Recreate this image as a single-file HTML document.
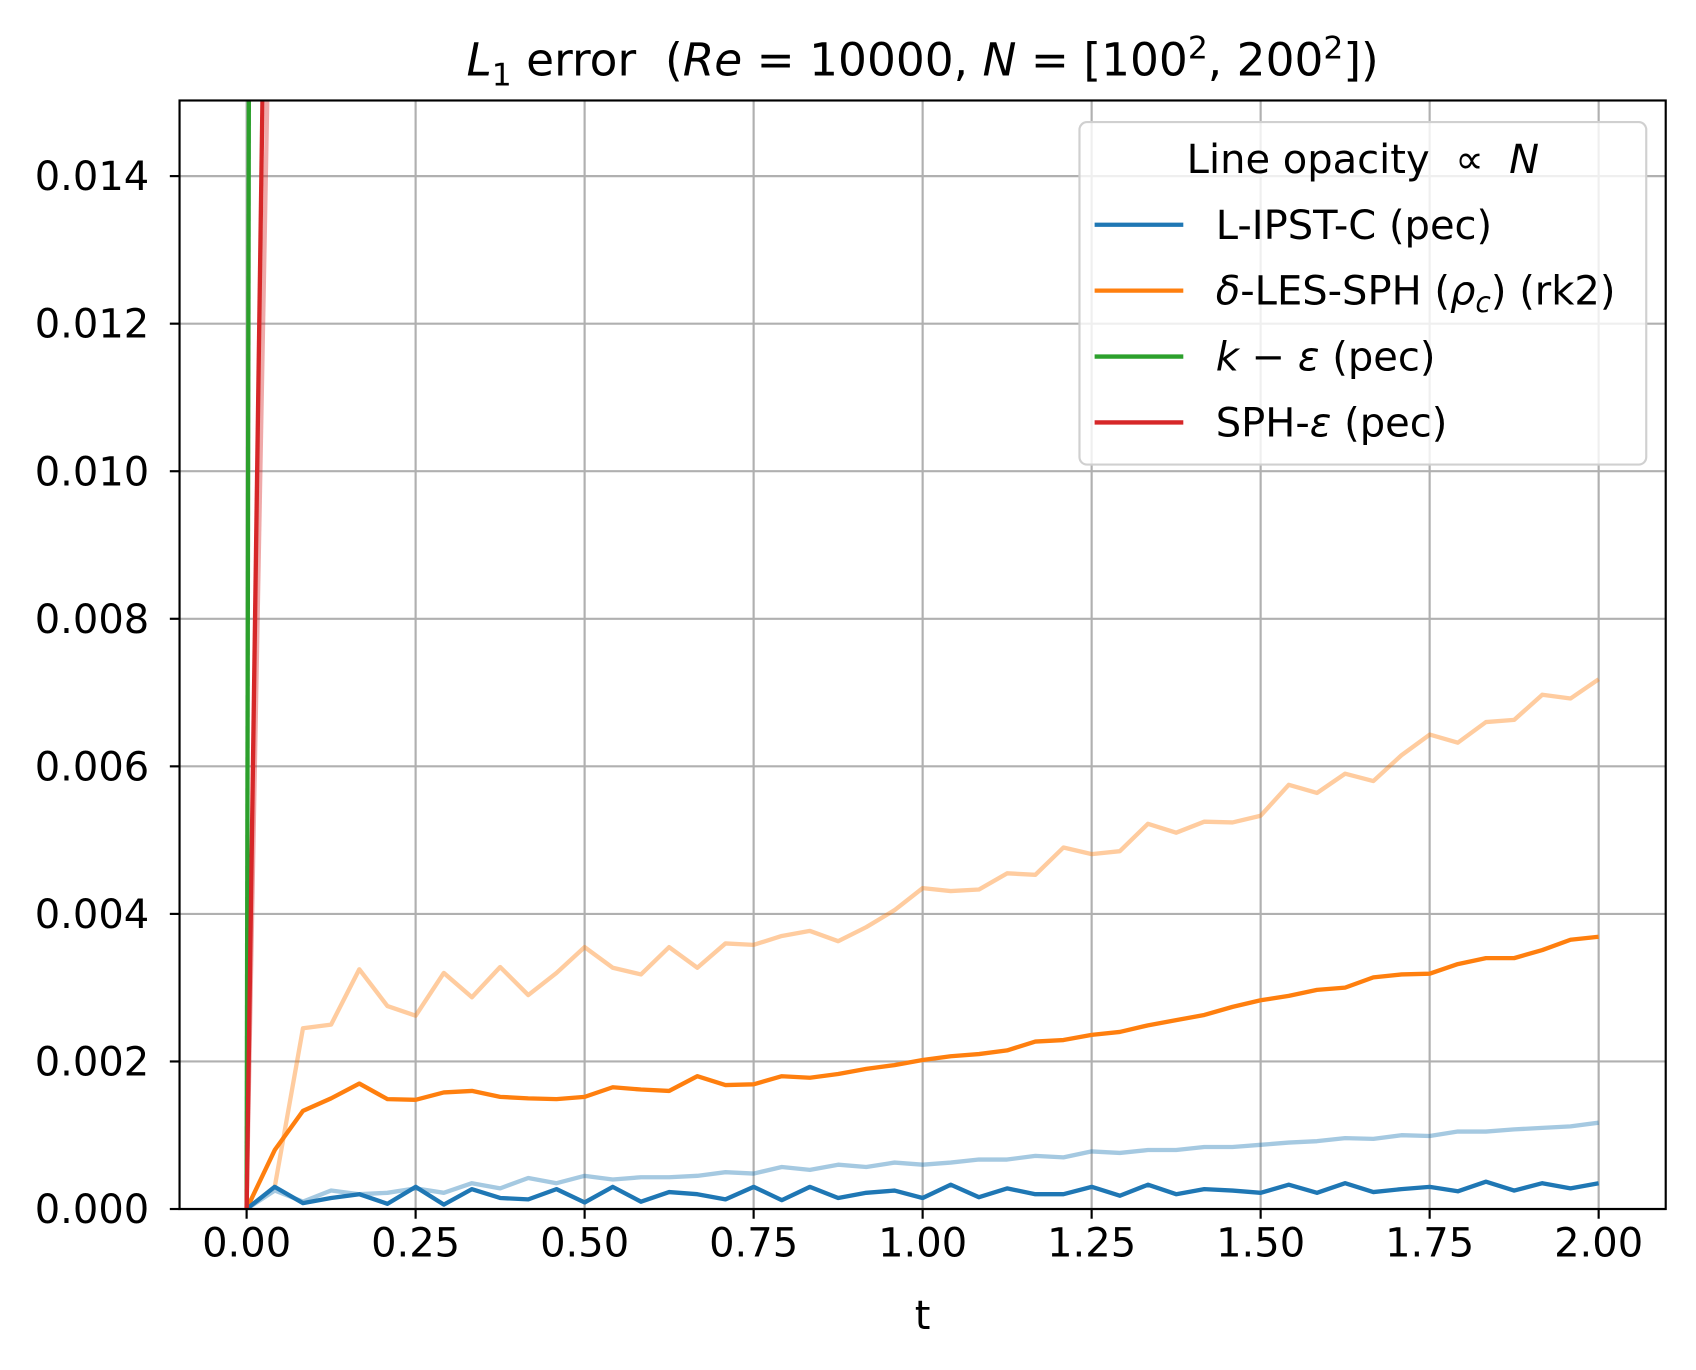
<!DOCTYPE html>
<html><head><meta charset="utf-8"><style>html,body{margin:0;padding:0;background:#fff}svg{display:block}</style></head>
<body>
<svg id="chart" width="1696" height="1370" viewBox="0 0 1568 1268" preserveAspectRatio="none" xmlns="http://www.w3.org/2000/svg" font-family="'DejaVu Sans','Liberation Sans',sans-serif">
<rect width="1568" height="1268" fill="#fff"/>
<g id="grid"></g>
<g id="series"></g>
<g id="axes"></g>
<text x="853" y="70" font-size="42" text-anchor="middle" xml:space="preserve"><tspan font-style="italic">L</tspan><tspan font-size="29" dy="9">1</tspan><tspan dy="-9"> error  (</tspan><tspan font-style="italic">Re</tspan><tspan> = 10000, </tspan><tspan font-style="italic">N</tspan><tspan> = [100</tspan><tspan font-size="29" dy="-16">2</tspan><tspan dy="16">, 200</tspan><tspan font-size="29" dy="-16">2</tspan><tspan dy="16">])</tspan></text>
<text x="853" y="1230" font-size="37" text-anchor="middle">t</text>
<g>
<rect x="998" y="113" width="524" height="317" rx="7" fill="#fff" fill-opacity="0.8" stroke="#d0d0d0" stroke-width="2"/>
<text x="1260" y="160" font-size="37" text-anchor="middle" xml:space="preserve">Line opacity  ∝  <tspan font-style="italic">N</tspan></text>
<g><line x1="1012" x2="1094" y1="208" y2="208" stroke="#1f77b4" stroke-width="4"/><text x="1124" y="221" font-size="37">L-IPST-C (pec)</text></g>
<g><line x1="1012" x2="1094" y1="269" y2="269" stroke="#ff7f0e" stroke-width="4"/><text x="1124" y="282" font-size="37"><tspan font-style="italic">δ</tspan>-LES-SPH (<tspan font-style="italic">ρ</tspan><tspan font-style="italic" font-size="26" dy="7">c</tspan><tspan dy="-7">) (rk2)</tspan></text></g>
<g><line x1="1012" x2="1094" y1="330" y2="330" stroke="#2ca02c" stroke-width="4"/><text x="1124" y="343" font-size="37"><tspan font-style="italic">k</tspan> − <tspan font-style="italic">ε</tspan> (pec)</text></g>
<g><line x1="1012" x2="1094" y1="391" y2="391" stroke="#d62728" stroke-width="4"/><text x="1124" y="404" font-size="37">SPH-<tspan font-style="italic">ε</tspan> (pec)</text></g>
</g>
</svg>
<script>
const xTicks=[0,0.25,0.5,0.75,1.0,1.25,1.5,1.75,2.0];
const yTicks=[0,0.002,0.004,0.006,0.008,0.010,0.012,0.014];
const orangeLight=[0,0.3,2.45,2.5,3.25,2.75,2.62,3.2,2.87,3.28,2.9,3.2,3.55,3.27,3.18,3.55,3.27,3.6,3.58,3.7,3.77,3.63,3.82,4.05,4.35,4.31,4.33,4.55,4.53,4.9,4.81,4.85,5.22,5.1,5.25,5.24,5.33,5.75,5.64,5.9,5.8,6.15,6.43,6.32,6.6,6.63,6.97,6.92,7.18];
const orangeDark=[0,0.8,1.33,1.5,1.7,1.49,1.48,1.58,1.6,1.52,1.5,1.49,1.52,1.65,1.62,1.6,1.8,1.68,1.69,1.8,1.78,1.83,1.9,1.95,2.02,2.07,2.1,2.15,2.27,2.29,2.36,2.4,2.49,2.56,2.63,2.74,2.83,2.89,2.97,3.0,3.14,3.18,3.19,3.32,3.4,3.4,3.51,3.65,3.69];
const blueLight=[0,0.25,0.1,0.25,0.2,0.22,0.28,0.22,0.35,0.28,0.42,0.35,0.45,0.4,0.43,0.43,0.45,0.5,0.48,0.57,0.53,0.6,0.57,0.63,0.6,0.63,0.67,0.67,0.72,0.7,0.78,0.76,0.8,0.8,0.84,0.84,0.87,0.9,0.92,0.96,0.95,1.0,0.99,1.05,1.05,1.08,1.1,1.12,1.17];
const blueDark=[0,0.3,0.08,0.15,0.2,0.07,0.3,0.06,0.27,0.15,0.13,0.27,0.09,0.3,0.1,0.23,0.2,0.13,0.3,0.12,0.3,0.15,0.22,0.25,0.15,0.33,0.16,0.28,0.2,0.2,0.3,0.18,0.33,0.2,0.27,0.25,0.22,0.33,0.22,0.35,0.23,0.27,0.3,0.24,0.37,0.25,0.35,0.28,0.35];
const greenT=[0,0.0035], greenV=[0,16];
const redT=[0,0.025], redV=[0,16];
const NS="http://www.w3.org/2000/svg";
const L=166,R=1540,T=93,B=1119;
const X=t=>228+(1478-228)*t/2;
const Y=v=>1119-(1119-163)*v/0.014;
function mk(tag,attrs,parent){const e=document.createElementNS(NS,tag);for(const k in attrs)e.setAttribute(k,attrs[k]);parent.appendChild(e);return e;}
const grid=document.getElementById('grid'),axes=document.getElementById('axes'),series=document.getElementById('series');
xTicks.forEach(t=>{
 const g=mk('line',{x1:X(t),x2:X(t),y1:T,y2:B,stroke:'#b0b0b0','stroke-width':2},grid);
 
 
 mk('line',{x1:X(t),x2:X(t),y1:B,y2:B+9,stroke:'#000','stroke-width':2},axes);
 const tx=mk('text',{x:X(t),y:B+44,'font-size':37,'text-anchor':'middle'},axes);
 tx.textContent=t.toFixed(2);
 
 
});
yTicks.forEach(v=>{
 const g=mk('line',{x1:L,x2:R,y1:Y(v),y2:Y(v),stroke:'#b0b0b0','stroke-width':2},grid);
 
 
 mk('line',{x1:L-9,x2:L,y1:Y(v),y2:Y(v),stroke:'#000','stroke-width':2},axes);
 const tx=mk('text',{x:L-28,y:Y(v)+13,'font-size':37,'text-anchor':'end'},axes);
 tx.textContent=v.toFixed(3);
 
 
});
const frame=mk('rect',{x:L,y:T,width:R-L,height:B-T,fill:'none',stroke:'#000','stroke-width':2},axes);


const clip=mk('clipPath',{id:'pc'},document.getElementById('chart'));
mk('rect',{x:L,y:T,width:R-L,height:B-T},clip);
series.setAttribute('clip-path','url(#pc)');
function line(ts,vs,color,op,name){
 const pts=vs.map((v,i)=>X(ts[i]).toFixed(1)+','+Y(v*1e-3).toFixed(1)).join(' ');
 const p=mk('polyline',{points:pts,fill:'none',stroke:color,'stroke-opacity':op,'stroke-width':4,'stroke-linejoin':'round'},series);
 
 
}
const tt=n=>Array.from({length:n},(_,i)=>2*i/(n-1));
line(tt(orangeLight.length),orangeLight,'#ff7f0e',0.4,'les-sph-line-n100');
line(tt(blueLight.length),blueLight,'#1f77b4',0.4,'lipst-line-n100');
line(tt(orangeDark.length),orangeDark,'#ff7f0e',1,'les-sph-line-n200');
line(tt(blueDark.length),blueDark,'#1f77b4',1,'lipst-line-n200');
line(greenT,greenV,'#2ca02c',1,'k-eps-line');
line(redT.map(t=>t*1.3),redV,'#d62728',0.4,'sph-eps-line-n100');
line(redT,redV,'#d62728',1,'sph-eps-line-n200');
</script>
</body></html>
